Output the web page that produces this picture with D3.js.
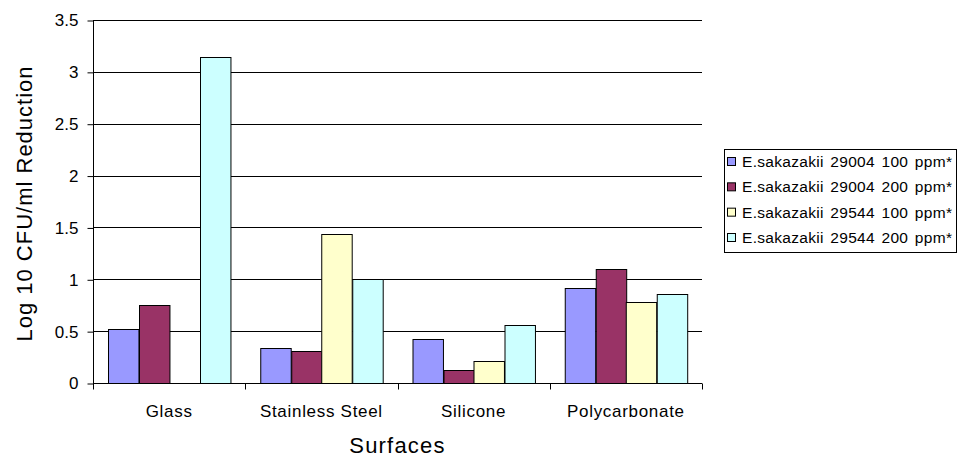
<!DOCTYPE html>
<html>
<head>
<meta charset="utf-8">
<script src="https://cdn.jsdelivr.net/npm/d3@7"></script>
<style>
  html, body { margin: 0; padding: 0; background: #fff; }
  svg { display: block; font-family: Arial, "Liberation Sans", sans-serif; }
</style>
</head>
<body>
<svg id="chart" width="959" height="464"></svg>
<script>
// Surfaces tested and the log reduction achieved for each strain / concentration
const categories = ["Glass", "Stainless Steel", "Silicone", "Polycarbonate"];
const seriesNames = [
  "E.sakazakii 29004 100 ppm*",
  "E.sakazakii 29004 200 ppm*",
  "E.sakazakii 29544 100 ppm*",
  "E.sakazakii 29544 200 ppm*"
];
const strain29004_100 = [0.52, 0.34, 0.42, 0.92];
const strain29004_200 = [0.75, 0.31, 0.13, 1.10];
const strain29544_100 = [0.00, 1.44, 0.21, 0.78];
const strain29544_200 = [3.14, 1.00, 0.56, 0.86];
const seriesColors = ["#9999FF", "#993366", "#FFFFCC", "#CCFFFF"];
const yTicks = [0, 0.5, 1, 1.5, 2, 2.5, 3, 3.5];

const seriesValues = [strain29004_100, strain29004_200, strain29544_100, strain29544_200];

const svg = d3.select("#chart");
const plot = { left: 93, right: 702, top: 20, bottom: 383 };

const x0 = d3.scaleBand().domain(categories).range([plot.left, plot.right]).padding(0);
const step = x0.step();
const x1 = d3.scaleBand().domain(seriesNames).range([step * 0.1, step * 0.9]).padding(0);
const y = d3.scaleLinear().domain([0, 3.5]).range([plot.bottom, plot.top]);

// horizontal gridlines
svg.append("g")
  .selectAll("line")
  .data(yTicks.filter(t => t > 0))
  .join("line")
  .attr("x1", plot.left).attr("x2", plot.right)
  .attr("y1", d => Math.round(y(d)) + 0.5).attr("y2", d => Math.round(y(d)) + 0.5)
  .attr("stroke", "#000").attr("stroke-width", 1);

// bars
const groups = svg.append("g")
  .selectAll("g")
  .data(categories)
  .join("g")
  .attr("transform", d => `translate(${x0(d)},0)`);

groups.selectAll("rect")
  .data((c, i) => seriesNames.map((s, k) => ({ s, k, v: seriesValues[k][i] })))
  .join("rect")
  .filter(d => d.v > 0)
  .attr("x", d => Math.round(x1(d.s)) + 0.5)
  .attr("y", d => Math.round(y(d.v)) + 0.5)
  .attr("width", x1.bandwidth())
  .attr("height", d => Math.round(y(0)) - Math.round(y(d.v)))
  .attr("fill", d => seriesColors[d.k])
  .attr("stroke", "#000")
  .attr("stroke-width", 1);

// y axis
const yAxis = d3.axisLeft(y).tickValues(yTicks).tickSize(6).tickPadding(9)
  .tickFormat(d => String(d));
const gy = svg.append("g").attr("transform", `translate(${plot.left + 0.5},0.5)`).call(yAxis);
gy.select(".domain").attr("d", `M0,${y(3.5)}V${y(0)}`).attr("stroke", "#000");
gy.selectAll(".tick line").attr("stroke", "#000");
gy.selectAll(".tick text")
  .attr("font-family", "Arial, 'Liberation Sans', sans-serif")
  .attr("font-size", 17).attr("fill", "#000");

// x axis with ticks at the category boundaries
const gx = svg.append("g").attr("transform", `translate(0,${Math.round(y(0)) + 0.5})`);
gx.append("line").attr("x1", plot.left).attr("x2", plot.right).attr("stroke", "#000");
const boundaries = categories.map(c => x0(c)).concat([plot.right]);
gx.selectAll("line.tick")
  .data(boundaries)
  .join("line").attr("class", "tick")
  .attr("x1", d => Math.round(d) + 0.5).attr("x2", d => Math.round(d) + 0.5)
  .attr("y1", 0).attr("y2", 6).attr("stroke", "#000");
gx.selectAll("text")
  .data(categories)
  .join("text")
  .attr("x", d => x0(d) + step / 2)
  .attr("y", 33)
  .attr("text-anchor", "middle")
  .attr("font-size", 17)
  .attr("letter-spacing", 0.7)
  .attr("fill", "#000")
  .text(d => d);

// axis titles
svg.append("text")
  .attr("x", (plot.left + plot.right) / 2)
  .attr("y", 453)
  .attr("text-anchor", "middle")
  .attr("font-size", 22)
  .attr("letter-spacing", 1.2)
  .attr("fill", "#000")
  .text("Surfaces");

svg.append("text")
  .attr("transform", `translate(32,${(plot.top + plot.bottom) / 2 + 2}) rotate(-90)`)
  .attr("text-anchor", "middle")
  .attr("font-size", 22)
  .attr("letter-spacing", 1)
  .attr("fill", "#000")
  .text("Log 10 CFU/ml Reduction");

// legend
const legend = svg.append("g");
legend.append("rect")
  .attr("x", 724.5).attr("y", 149.5).attr("width", 232).attr("height", 103)
  .attr("fill", "#fff").attr("stroke", "#000");
const rowY = d3.scalePoint().domain(seriesNames).range([161, 237]);
const items = legend.selectAll("g.item")
  .data(seriesNames)
  .join("g").attr("class", "item")
  .attr("transform", d => `translate(0,${rowY(d)})`);
items.append("rect")
  .attr("x", 727.5).attr("y", -3.5).attr("width", 8).attr("height", 8)
  .attr("fill", (d, i) => seriesColors[i]).attr("stroke", "#000");
items.append("text")
  .attr("x", 742).attr("y", 6)
  .attr("font-size", 15.5)
  .attr("word-spacing", 2)
  .attr("letter-spacing", 0.3)
  .attr("fill", "#000")
  .text(d => d);
</script>
</body>
</html>
